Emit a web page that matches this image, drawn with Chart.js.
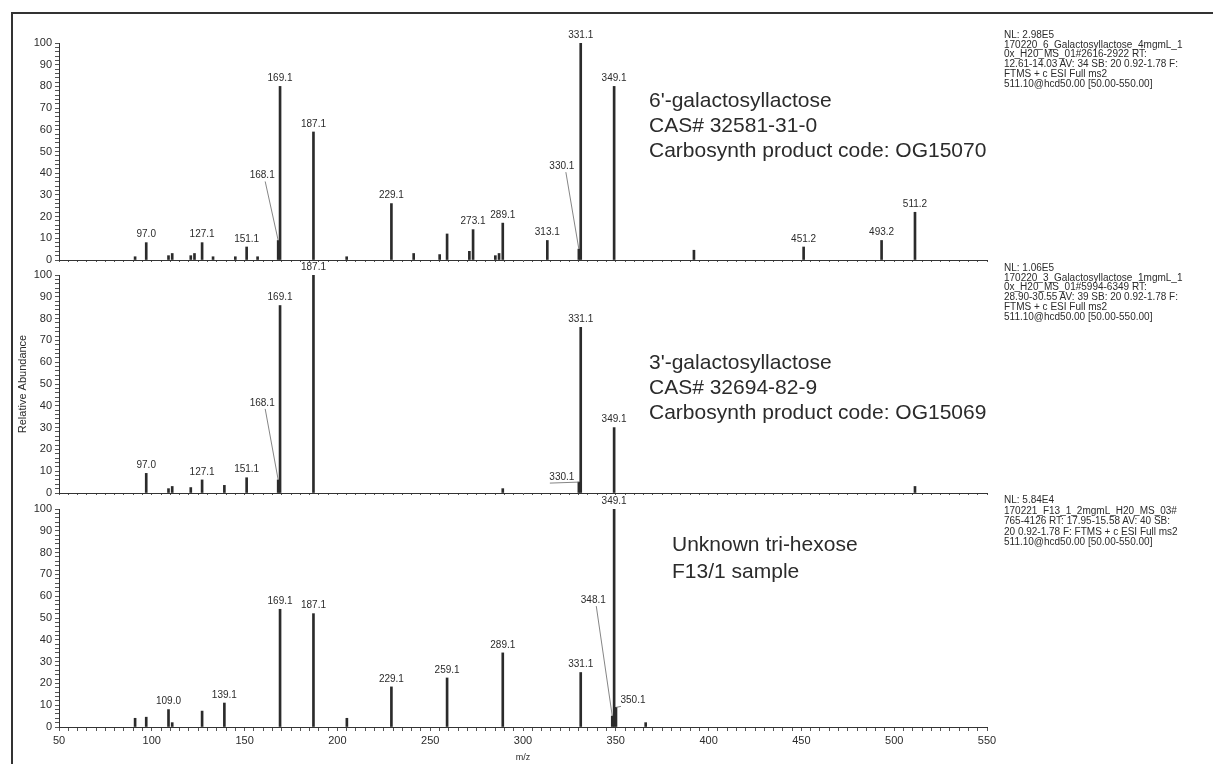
<!DOCTYPE html>
<html>
<head>
<meta charset="utf-8">
<script src="https://cdn.jsdelivr.net/npm/chart.js@4.4.1/dist/chart.umd.min.js"></script>
<style>
  body { margin: 0; background: #fff; }
  #wrap { position: relative; width: 1213px; height: 764px; overflow: hidden; font-family: 'Liberation Sans', Arial, sans-serif; color: #2b2b2b; }
  #frame { position: absolute; left: 11px; top: 12px; width: 1300px; height: 800px; border: 2px solid #333; box-sizing: border-box; }
  canvas { position: absolute; left: 0; top: 0; }
  .compound { position: absolute; font-size: 21px; line-height: 25px; white-space: nowrap; }
  .info { position: absolute; left: 1004px; font-size: 10px; line-height: 9.7px; white-space: nowrap; }
</style>
</head>
<body>
<div id="wrap">
  <div id="frame"></div>
  <canvas id="top" width="1213" height="764"></canvas>
  <canvas id="mid" width="1213" height="764"></canvas>
  <canvas id="bot" width="1213" height="764"></canvas>

  <div class="compound" style="left:649px; top:87px;">6'-galactosyllactose<br>CAS# 32581-31-0<br>Carbosynth product code: OG15070</div>
  <div class="compound" style="left:649px; top:349px;">3'-galactosyllactose<br>CAS# 32694-82-9<br>Carbosynth product code: OG15069</div>
  <div class="compound" style="left:672px; top:530px; line-height:27px;">Unknown tri-hexose<br>F13/1 sample</div>

  <div class="info" style="top:30px;">NL: 2.98E5<br>170220_6_Galactosyllactose_4mgmL_1<br>0x_H20_MS_01#2616-2922 RT:<br>12.61-14.03 AV: 34 SB: 20 0.92-1.78 F:<br>FTMS + c ESI Full ms2<br>511.10@hcd50.00 [50.00-550.00]</div>
  <div class="info" style="top:263px;">NL: 1.06E5<br>170220_3_Galactosyllactose_1mgmL_1<br>0x_H20_MS_01#5994-6349 RT:<br>28.90-30.55 AV: 39 SB: 20 0.92-1.78 F:<br>FTMS + c ESI Full ms2<br>511.10@hcd50.00 [50.00-550.00]</div>
  <div class="info" style="top:495px; line-height:10.5px;">NL: 5.84E4<br>170221_F13_1_2mgmL_H20_MS_03#<br>765-4126 RT: 17.95-15.58 AV: 40 SB:<br>20 0.92-1.78 F: FTMS + c ESI Full ms2<br>511.10@hcd50.00 [50.00-550.00]</div>
</div>

<script>
// axis tick labels
const mzTickLabels = [50, 100, 150, 200, 250, 300, 350, 400, 450, 500, 550];
const abundTickLabels = [0, 10, 20, 30, 40, 50, 60, 70, 80, 90, 100];

// 6'-galactosyllactose
const gal6Mz = [91.0, 97.0, 109.0, 111.0, 121.0, 123.0, 127.1, 133.0, 145.0, 151.1, 157.0, 168.1, 169.1, 187.1, 205.0, 229.1, 241.1, 255.1, 259.1, 271.1, 273.1, 285.1, 287.1, 289.1, 313.1, 330.1, 331.1, 349.1, 392.1, 451.2, 493.2, 511.2];
const gal6Abund = [1.5, 8, 2, 3, 2, 3, 8, 1.5, 1.5, 6, 1.5, 9, 80, 59, 1.5, 26, 3, 2.5, 12, 4, 14, 2, 3, 17, 9, 5, 100, 80, 4.5, 6, 9, 22];
const gal6Labeled = [97.0, 127.1, 151.1, 168.1, 169.1, 187.1, 229.1, 273.1, 289.1, 313.1, 330.1, 331.1, 349.1, 451.2, 493.2, 511.2];

// 3'-galactosyllactose
const gal3Mz = [97.0, 109.0, 111.0, 121.0, 127.1, 139.1, 151.1, 168.1, 169.1, 187.1, 289.1, 330.1, 331.1, 349.1, 511.2];
const gal3Abund = [9, 2, 3, 2.5, 6, 3.5, 7, 6, 86, 100, 2, 5, 76, 30, 3];
const gal3Labeled = [97.0, 127.1, 151.1, 168.1, 169.1, 187.1, 330.1, 331.1, 349.1];

// unknown tri-hexose, F13/1 sample
const unkMz = [91.0, 97.0, 109.0, 111.0, 127.1, 139.1, 169.1, 187.1, 205.1, 229.1, 259.1, 289.1, 331.1, 348.1, 349.1, 350.1, 366.1];
const unkAbund = [4, 4.5, 8, 2, 7.3, 11, 54, 52, 4, 18.4, 22.5, 34, 25, 5, 100, 9, 2];
const unkLabeled = [109.0, 139.1, 169.1, 187.1, 229.1, 259.1, 289.1, 331.1, 348.1, 349.1, 350.1];

const FONT = "'Liberation Sans', Arial, sans-serif";
Chart.defaults.font.family = FONT;
Chart.defaults.color = '#2b2b2b';

// draws the m/z labels over the peaks, some with a leader line
const peakLabels = {
  id: 'peakLabels',
  afterDatasetsDraw(chart, args, opts) {
    const meta = chart.getDatasetMeta(0);
    const pts = chart.data.datasets[0].data;
    const ctx = chart.ctx;
    ctx.save();
    ctx.font = '10px ' + FONT;
    ctx.fillStyle = '#2b2b2b';
    ctx.strokeStyle = '#666';
    ctx.lineWidth = 0.8;
    ctx.textAlign = 'center';
    ctx.textBaseline = 'bottom';
    pts.forEach((p, i) => {
      if (!opts.labeled.includes(p.x)) return;
      const bar = meta.data[i];
      const txt = p.x.toFixed(1);
      const lead = opts.leaders[txt];
      if (lead) {
        const lx = bar.x + lead[0], ly = bar.y + lead[1];
        ctx.fillText(txt, lx, ly);
        ctx.beginPath();
        ctx.moveTo(lx + lead[2], ly + 1);
        ctx.lineTo(bar.x, bar.y);
        ctx.stroke();
      } else {
        ctx.fillText(txt, bar.x, bar.y - 3);
      }
    });
    ctx.restore();
  }
};

function panel(id, mz, abund, labeled, leaders, box, isBottom, yTitle) {
  new Chart(document.getElementById(id), {
    type: 'bar',
    data: {
      datasets: [{
        data: mz.map((m, i) => ({ x: m, y: abund[i] })),
        backgroundColor: '#2b2b2b',
        borderWidth: 0,
        barThickness: 2
      }]
    },
    options: {
      responsive: false,
      animation: false,
      events: [],
      layout: { padding: box },
      plugins: {
        legend: { display: false },
        tooltip: { enabled: false },
        peakLabels: { labeled: labeled, leaders: leaders }
      },
      scales: {
        x: {
          type: 'linear',
          min: 50, max: 550,
          offset: false,
          afterFit: s => { s.height = 36; },
          grid: { display: true, drawOnChartArea: false, offset: false, tickLength: isBottom ? 4 : 2, color: '#555' },
          border: { display: true, color: '#333', width: 1 },
          ticks: {
            display: isBottom,
            stepSize: 5,
            autoSkip: false,
            maxRotation: 0,
            padding: 3,
            font: { size: 11 },
            callback: v => mzTickLabels.includes(v) ? v : ''
          },
          title: {
            display: isBottom,
            text: 'm/z',
            font: { size: 9 },
            padding: { top: 0, bottom: 0 }
          }
        },
        y: {
          min: 0, max: 100,
          afterFit: s => { s.width = 47; },
          grid: { display: true, drawOnChartArea: false, tickLength: 4, color: '#555' },
          border: { display: true, color: '#333', width: 1 },
          ticks: {
            stepSize: 2,
            autoSkip: false,
            padding: 3,
            font: { size: 11 },
            callback: v => abundTickLabels.includes(v) ? v : ''
          },
          title: {
            display: !!yTitle,
            text: yTitle || '',
            font: { size: 11 }
          }
        }
      }
    },
    plugins: [peakLabels]
  });
}

panel('top', gal6Mz, gal6Abund, gal6Labeled,
  { '168.1': [-16, -60, 3], '330.1': [-17, -78, 4] },
  { left: 12, right: 226, top: 43, bottom: 764 - 36 - 260 }, false, null);

panel('mid', gal3Mz, gal3Abund, gal3Labeled,
  { '168.1': [-16, -72, 3], '330.1': [-17, 0, -12] },
  { left: 12, right: 226, top: 275, bottom: 764 - 36 - 493 }, false, 'Relative Abundance');

panel('bot', unkMz, unkAbund, unkLabeled,
  { '348.1': [-19, -111, 3], '350.1': [17, -2, -12] },
  { left: 12, right: 226, top: 509, bottom: 764 - 36 - 727 }, true, null);
</script>
</body>
</html>
